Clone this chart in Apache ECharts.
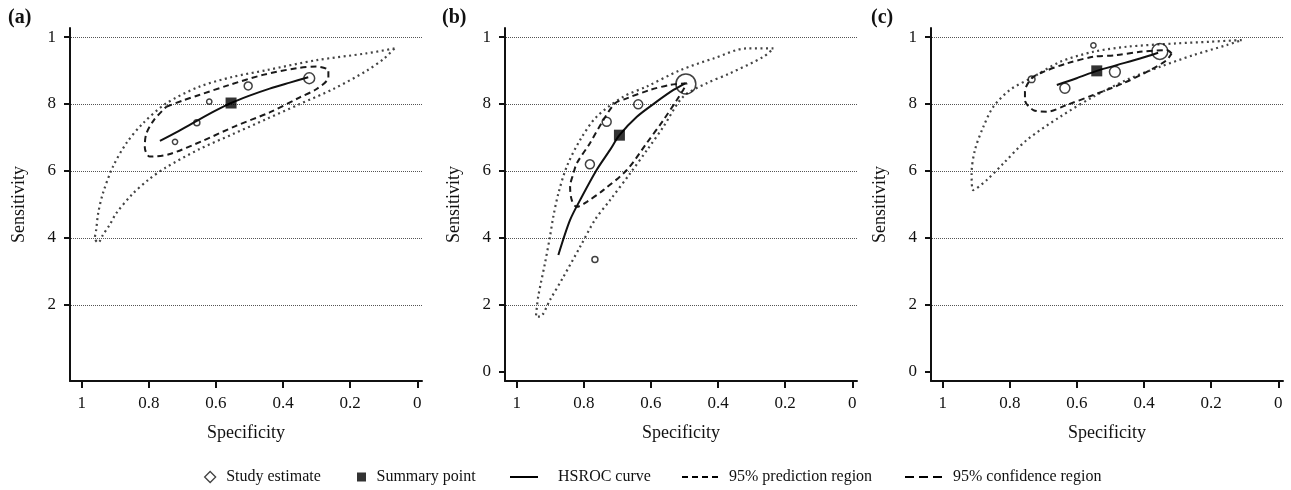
<!DOCTYPE html>
<html>
<head>
<meta charset="utf-8">
<script src="https://cdn.jsdelivr.net/npm/echarts@6/dist/echarts.min.js"></script>
<style>
html, body { margin: 0; padding: 0; background: #fff; }
#chart { width: 1291px; height: 490px; }
</style>
</head>
<body>
<div id="chart"></div>
<script>
// axis ticks
const specTicks = [1, 0.8, 0.6, 0.4, 0.2, 0]
const specTickLabels = ['1', '0.8', '0.6', '0.4', '0.2', '0']
const sensTicks = [0, 0.2, 0.4, 0.6, 0.8, 1]
const sensTickLabels = ['0', '2', '4', '6', '8', '1']
const gridVals = [0.2, 0.4, 0.6, 0.8, 1]

// (a)
const studyA = [[0.722, 0.687], [0.657, 0.744], [0.62, 0.807], [0.504, 0.854], [0.322, 0.877]]
const weightA = [3, 4, 3, 7, 13]
const summaryA = [[0.555, 0.803]]
const hsrocA = [[0.767, 0.690], [0.71, 0.72], [0.657, 0.750], [0.60, 0.781], [0.555, 0.803], [0.50, 0.825], [0.44, 0.846], [0.38, 0.864], [0.325, 0.880]]
const confA = [[0.748, 0.792], [0.70, 0.81], [0.65, 0.827], [0.56, 0.857], [0.46, 0.887], [0.36, 0.907], [0.30, 0.912], [0.265, 0.90], [0.265, 0.88], [0.30, 0.845], [0.35, 0.82], [0.44, 0.775], [0.54, 0.735], [0.64, 0.69], [0.74, 0.65], [0.797, 0.643], [0.812, 0.67], [0.808, 0.71], [0.785, 0.752], [0.748, 0.792]]
const predA = [[0.068, 0.966], [0.153, 0.951], [0.30, 0.931], [0.45, 0.901], [0.55, 0.881], [0.649, 0.852], [0.748, 0.802], [0.818, 0.742], [0.867, 0.683], [0.907, 0.613], [0.937, 0.533], [0.951, 0.474], [0.957, 0.424], [0.961, 0.399], [0.951, 0.386], [0.937, 0.409], [0.917, 0.439], [0.897, 0.474], [0.85, 0.53], [0.80, 0.575], [0.75, 0.61], [0.65, 0.665], [0.55, 0.71], [0.45, 0.755], [0.35, 0.80], [0.25, 0.845], [0.15, 0.90], [0.10, 0.935], [0.068, 0.966]]

// (b)
const studyB = [[0.782, 0.62], [0.732, 0.747], [0.638, 0.799], [0.496, 0.86], [0.767, 0.336]]
const weightB = [9, 9, 9, 44, 4]
const summaryB = [[0.694, 0.707]]
const hsrocB = [[0.876, 0.349], [0.841, 0.454], [0.806, 0.523], [0.762, 0.603], [0.722, 0.663], [0.694, 0.707], [0.642, 0.762], [0.583, 0.807], [0.533, 0.842], [0.498, 0.862]]
const confB = [[0.493, 0.862], [0.543, 0.857], [0.603, 0.842], [0.672, 0.817], [0.707, 0.802], [0.742, 0.752], [0.782, 0.683], [0.821, 0.623], [0.831, 0.593], [0.841, 0.553], [0.836, 0.513], [0.821, 0.493], [0.791, 0.508], [0.742, 0.543], [0.672, 0.603], [0.613, 0.683], [0.563, 0.752], [0.523, 0.812], [0.504, 0.842], [0.493, 0.862]]
const predB = [[0.235, 0.966], [0.315, 0.966], [0.414, 0.936], [0.513, 0.901], [0.613, 0.852], [0.682, 0.822], [0.762, 0.762], [0.811, 0.693], [0.851, 0.613], [0.876, 0.533], [0.891, 0.464], [0.901, 0.404], [0.916, 0.324], [0.936, 0.225], [0.943, 0.165], [0.931, 0.165], [0.901, 0.215], [0.861, 0.284], [0.811, 0.374], [0.767, 0.454], [0.722, 0.513], [0.662, 0.593], [0.61, 0.665], [0.563, 0.732], [0.504, 0.822], [0.434, 0.862], [0.364, 0.892], [0.265, 0.941], [0.235, 0.966]]

// (c)
const studyC = [[0.735, 0.874], [0.636, 0.847], [0.551, 0.975], [0.487, 0.896], [0.353, 0.957]]
const weightC = [5, 11, 3, 13, 28]
const summaryC = [[0.541, 0.899]]
const hsrocC = [[0.66, 0.857], [0.601, 0.877], [0.541, 0.899], [0.482, 0.916], [0.412, 0.936], [0.358, 0.953]]
const confC = [[0.318, 0.951], [0.333, 0.961], [0.412, 0.956], [0.482, 0.946], [0.551, 0.941], [0.631, 0.921], [0.70, 0.896], [0.735, 0.877], [0.755, 0.837], [0.755, 0.812], [0.73, 0.782], [0.69, 0.777], [0.631, 0.797], [0.551, 0.827], [0.462, 0.862], [0.382, 0.901], [0.333, 0.931], [0.318, 0.951]]
const predC = [[0.109, 0.991], [0.204, 0.986], [0.303, 0.981], [0.452, 0.971], [0.551, 0.956], [0.65, 0.926], [0.73, 0.881], [0.80, 0.842], [0.849, 0.792], [0.879, 0.732], [0.904, 0.663], [0.914, 0.593], [0.909, 0.543], [0.869, 0.573], [0.819, 0.623], [0.749, 0.693], [0.65, 0.762], [0.551, 0.822], [0.452, 0.872], [0.353, 0.911], [0.253, 0.946], [0.154, 0.976], [0.109, 0.991]]

const panels = [
  { label: '(a)', study: studyA, weight: weightA, summary: summaryA, hsroc: hsrocA, conf: confA, pred: predA, yTicks: [0.2, 0.4, 0.6, 0.8, 1] },
  { label: '(b)', study: studyB, weight: weightB, summary: summaryB, hsroc: hsrocB, conf: confB, pred: predB, yTicks: sensTicks },
  { label: '(c)', study: studyC, weight: weightC, summary: summaryC, hsroc: hsrocC, conf: confC, pred: predC, yTicks: sensTicks }
]

const FONT = "'Liberation Serif', 'DejaVu Serif', serif"
const INK = '#111'
const gridLefts = [70, 505, 931]
const labelLefts = [8, 442, 871]

function specLabel(v) {
  const i = specTicks.findIndex(t => Math.abs(t - v) < 1e-6)
  return i < 0 ? '' : specTickLabels[i]
}
function sensLabel(v) {
  const i = sensTicks.findIndex(t => Math.abs(t - v) < 1e-6)
  return i < 0 ? '' : sensTickLabels[i]
}

const grid = panels.map((p, i) => ({ left: gridLefts[i], top: 28, width: 352, height: 353 }))

const xAxis = panels.map((p, i) => ({
  gridIndex: i,
  type: 'value',
  inverse: true,
  min: -0.014,
  max: 1.035,
  name: 'Specificity',
  nameLocation: 'middle',
  nameGap: 43,
  nameTextStyle: { fontFamily: FONT, fontSize: 18, color: INK },
  axisLine: { show: true, onZero: false, lineStyle: { color: INK, width: 2 } },
  axisTick: { show: true, length: 7, customValues: specTicks, lineStyle: { color: INK, width: 2 } },
  axisLabel: { customValues: specTicks, formatter: specLabel, margin: 14, fontFamily: FONT, fontSize: 17, color: INK },
  splitLine: { show: false }
}))

const yAxis = panels.map((p, i) => ({
  gridIndex: i,
  type: 'value',
  min: -0.027,
  max: 1.027,
  name: 'Sensitivity',
  nameLocation: 'middle',
  nameGap: 42,
  nameTextStyle: { fontFamily: FONT, fontSize: 18, color: INK },
  axisLine: { show: true, onZero: false, lineStyle: { color: INK, width: 2 } },
  axisTick: { show: true, length: 6, customValues: p.yTicks, lineStyle: { color: INK, width: 2 } },
  axisLabel: { customValues: p.yTicks, formatter: sensLabel, margin: 14, fontFamily: FONT, fontSize: 17, color: INK },
  splitLine: { show: false }
}))

const series = []
panels.forEach((p, i) => {
  const ax = { xAxisIndex: i, yAxisIndex: i }
  series.push({
    ...ax, name: '95% prediction region', type: 'line', data: p.pred, smooth: 0.3, symbol: 'none', silent: true, z: 2,
    lineStyle: { color: '#444', width: 2.2, type: [2, 3.5] }
  })
  series.push({
    ...ax, name: '95% confidence region', type: 'line', data: p.conf, smooth: 0.3, symbol: 'none', silent: true, z: 3,
    lineStyle: { color: '#1a1a1a', width: 2, type: [6, 4] }
  })
  series.push({
    ...ax, name: 'HSROC curve', type: 'line', data: p.hsroc, smooth: 0.3, symbol: 'none', silent: true, z: 4,
    lineStyle: { color: '#111', width: 2 },
    markLine: {
      silent: true, symbol: ['none', 'none'], label: { show: false }, z: 1,
      lineStyle: { color: '#555', width: 1, type: [1, 1] },
      data: gridVals.map(v => ({ yAxis: v }))
    }
  })
  series.push({
    ...ax, name: 'Study estimate', type: 'scatter', data: p.study, symbol: 'circle', z: 5,
    symbolSize: (val, params) => 3 * Math.sqrt(p.weight[params.dataIndex]),
    itemStyle: { color: 'rgba(255,255,255,0)', borderColor: '#111', borderWidth: 1.5 }
  })
  series.push({
    ...ax, name: 'Summary point', type: 'scatter', data: p.summary, symbol: 'rect', symbolSize: 11, z: 6,
    itemStyle: { color: '#000' }
  })
})

const legendBase = {
  top: 469, padding: 0, itemGap: 0, selectedMode: false, symbolKeepAspect: true,
  textStyle: { fontFamily: FONT, fontSize: 16, color: INK }
}
const legend = [
  { ...legendBase, left: 204, itemWidth: 22, itemHeight: 11,
    data: [{ name: 'Study estimate', icon: 'path://M5,0L10,5L5,10L0,5Z', itemStyle: { color: 'rgba(255,255,255,0)', borderColor: INK, borderWidth: 1.3 } }] },
  { ...legendBase, left: 357, itemWidth: 20, itemHeight: 9,
    data: [{ name: 'Summary point', icon: 'path://M0,0h10v10h-10z', itemStyle: { color: '#000', borderWidth: 0 } }] },
  { ...legendBase, left: 510, itemWidth: 58, itemHeight: 2,
    data: [{ name: 'HSROC curve', icon: 'path://M0,0h28v2h-28z', itemStyle: { color: '#000', borderWidth: 0 } }] },
  { ...legendBase, left: 682, itemWidth: 48, itemHeight: 2,
    data: [{ name: '95% prediction region', icon: 'path://M0,0h6v2h-6z M10,0h6v2h-6z M20,0h6v2h-6z M30,0h6v2h-6z', itemStyle: { color: '#000', borderWidth: 0 } }] },
  { ...legendBase, left: 905, itemWidth: 49, itemHeight: 2,
    data: [{ name: '95% confidence region', icon: 'path://M0,0h9v2h-9z M14,0h9v2h-9z M28,0h9v2h-9z', itemStyle: { color: '#000', borderWidth: 0 } }] }
]

const title = panels.map((p, i) => ({
  text: p.label, left: labelLefts[i], top: 8, padding: 0,
  textStyle: { fontFamily: FONT, fontWeight: 'bold', fontSize: 20, color: INK }
}))

const chart = echarts.init(document.getElementById('chart'))
chart.setOption({
  animation: false,
  backgroundColor: '#fff',
  title,
  legend,
  grid,
  xAxis,
  yAxis,
  series
})
</script>
</body>
</html>
